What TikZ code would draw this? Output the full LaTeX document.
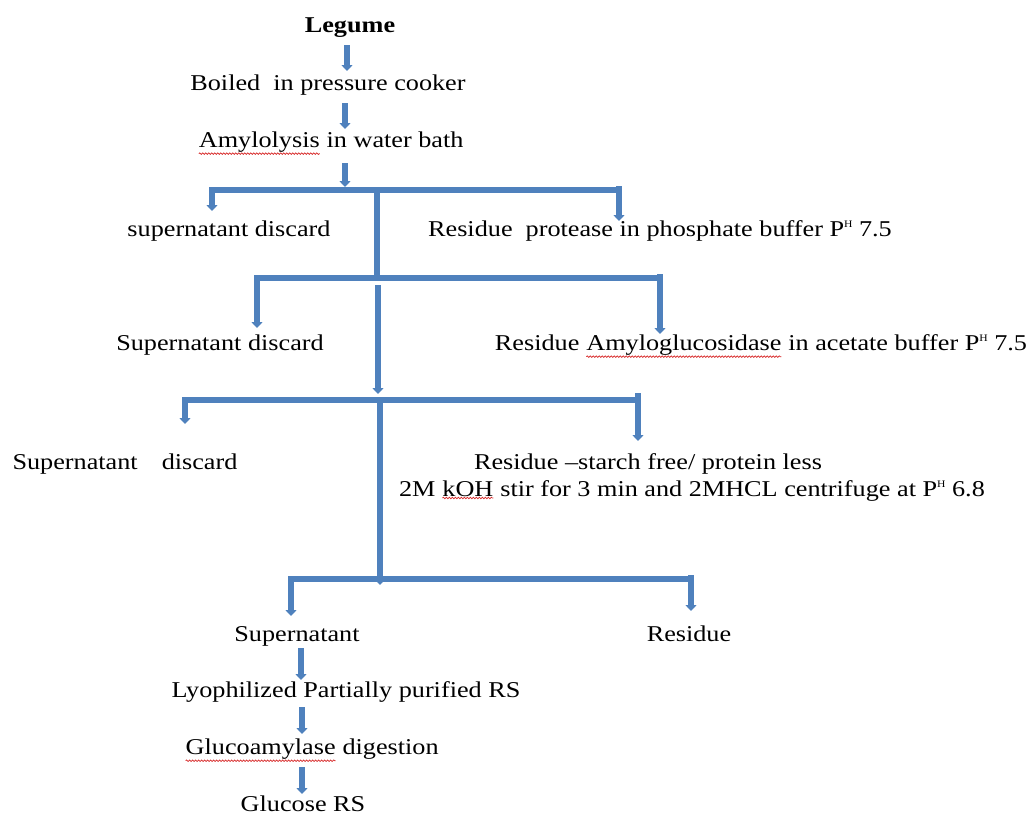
\documentclass[tikz,border=0pt]{standalone}
\usepackage{fontspec}
\setmainfont{Liberation Serif}[FakeStretch=1.16]
\usetikzlibrary{arrows.meta,decorations.pathmorphing}
\definecolor{flowblue}{RGB}{79,129,189}
\definecolor{spellred}{RGB}{215,40,40}
\newcommand\sqw[1]{\tikz[x=1cm,y=1cm,baseline=(w.base)]{\node[inner sep=0pt,outer sep=0pt,anchor=base](w){#1};\draw[spellred,line width=0.7pt,decorate,decoration={snake,amplitude=0.8pt,segment length=3pt}]([yshift=-1.8pt]w.south west)--([yshift=-1.8pt]w.south east);}}
\newcommand\phsup{P\raisebox{9pt}{\fontsize{10}{10}\selectfont H}}
\begin{document}
\begin{tikzpicture}[x=1pt,y=-1pt,
  lbl/.style={inner sep=0pt, anchor=base, font=\fontsize{22.6}{26}\selectfont},
  flow/.style={draw=flowblue, line width=5.5pt},
  flowarrow/.style={flow, -{Triangle[width=11pt,length=6pt]}}]
\useasboundingbox (0,0) rectangle (1029,817);
% texts
\node[lbl,font=\fontsize{22.6}{26}\selectfont\bfseries] (legume) at (350,32) {Legume};
\node[lbl] (boiled) at (328,90) {Boiled~~in pressure cooker};
\node[lbl] (amylo) at (331,147) {\sqw{Amylolysis} in water bath};
\node[lbl] (sup1) at (229,236) {supernatant discard};
\node[lbl] (res1) at (660,236) {Residue~~protease in phosphate buffer \phsup{} 7.5};
\node[lbl] (sup2) at (220,350) {Supernatant discard};
\node[lbl] (res2) at (761,350) {Residue \sqw{Amyloglucosidase} in acetate buffer \phsup{} 7.5};
\node[lbl] (sup3) at (125,469) {Supernatant\hspace{24pt}discard};
\node[lbl] (res3) at (648,469) {Residue –starch free/ protein less};
\node[lbl] (koh) at (692,496) {2M \sqw{kOH} stir for 3 min and 2MHCL centrifuge at \phsup{} 6.8};
\node[lbl] (sup4) at (297,641) {Supernatant};
\node[lbl] (res4) at (689,641) {Residue};
\node[lbl] (lyo) at (346,697) {Lyophilized Partially purified RS};
\node[lbl] (gluc) at (312,754) {\sqw{Glucoamylase} digestion};
\node[lbl] (glu) at (303,811) {Glucose RS};
% connector coordinates
\coordinate (a1s) at (347,45);  \coordinate (a1e) at (347,71);
\coordinate (a2s) at (345,103); \coordinate (a2e) at (345,129);
\coordinate (a3s) at (345,163); \coordinate (a3e) at (345,187);
\coordinate (b1l) at (212,190); \coordinate (b1r) at (619,190);
\coordinate (b1rt) at (619,186); \coordinate (d1l) at (212,211); \coordinate (d1r) at (619,221);
\coordinate (v1s) at (377,190); \coordinate (v1e) at (377,278);
\coordinate (b2l) at (257,278); \coordinate (b2r) at (660,278);
\coordinate (b2rt) at (660,274); \coordinate (d2l) at (257,328); \coordinate (d2r) at (660,334);
\coordinate (v2s) at (378,285); \coordinate (v2e) at (378,394);
\coordinate (b3l) at (185,400); \coordinate (b3r) at (638,400);
\coordinate (b3rt) at (638,393); \coordinate (d3l) at (185,424); \coordinate (d3r) at (638,441);
\coordinate (v3s) at (380,400); \coordinate (v3e) at (380,585);
\coordinate (b4l) at (291,579); \coordinate (b4r) at (691,579);
\coordinate (b4rt) at (691,575); \coordinate (d4l) at (291,616); \coordinate (d4r) at (691,611);
\coordinate (c1s) at (301,648); \coordinate (c1e) at (301,680);
\coordinate (c2s) at (302,707); \coordinate (c2e) at (302,734);
\coordinate (c3s) at (302,767); \coordinate (c3e) at (302,794);
% connectors
\draw[flowarrow] (a1s) -- (a1e);
\draw[flowarrow] (a2s) -- (a2e);
\draw[flowarrow] (a3s) -- (a3e);
\draw[flowarrow] (b1r) -- (b1l) -- (d1l);
\draw[flowarrow] (b1rt) -- (d1r);
\draw[flow] (v1s) -- (v1e);
\draw[flowarrow] (b2r) -- (b2l) -- (d2l);
\draw[flowarrow] (b2rt) -- (d2r);
\draw[flowarrow] (v2s) -- (v2e);
\draw[flowarrow] (b3r) -- (b3l) -- (d3l);
\draw[flowarrow] (b3rt) -- (d3r);
\draw[flowarrow] (v3s) -- (v3e);
\draw[flowarrow] (b4r) -- (b4l) -- (d4l);
\draw[flowarrow] (b4rt) -- (d4r);
\draw[flowarrow] (c1s) -- (c1e);
\draw[flowarrow] (c2s) -- (c2e);
\draw[flowarrow] (c3s) -- (c3e);
\end{tikzpicture}
\end{document}
